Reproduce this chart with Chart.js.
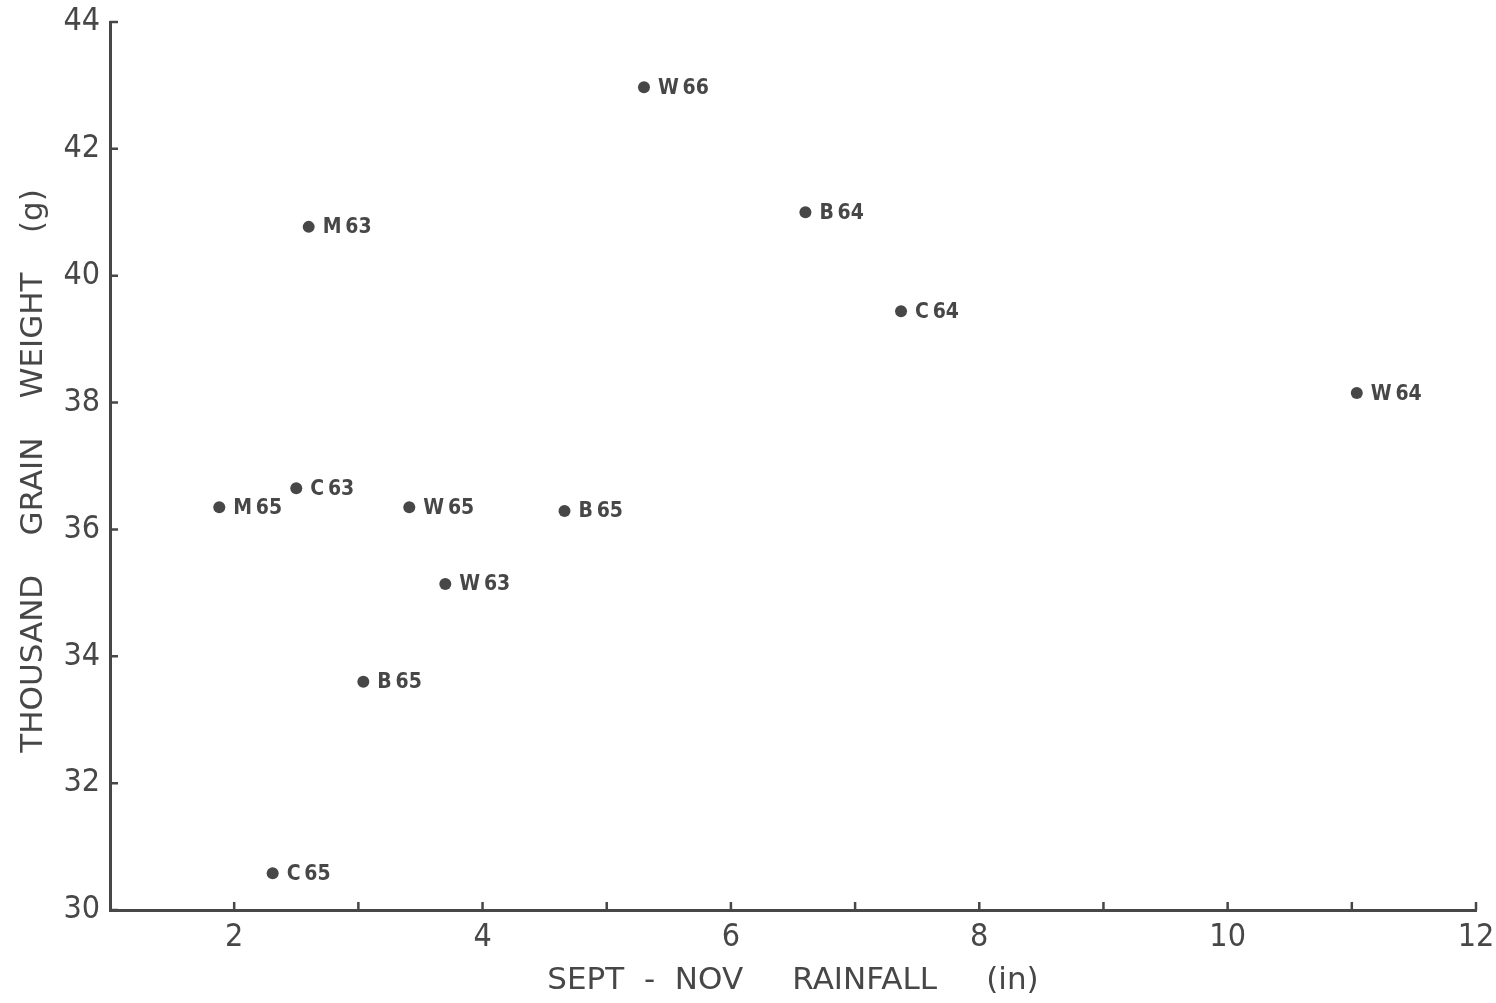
<!DOCTYPE html>
<html><head><meta charset="utf-8">
<script src="https://cdn.jsdelivr.net/npm/chart.js@4"></script>
<style>html,body{margin:0;padding:0;background:#fff}#wrap{width:1496px;height:1003px}</style>
</head><body><div id="wrap"><canvas id="c" width="1496" height="1003"></canvas></div>
<script>
// Data
const pointLabels = ['W\u200966','B\u200964','M\u200963','C\u200964','W\u200964','C\u200963','M\u200965','W\u200965','B\u200965','W\u200963','B\u200965','C\u200965'];
const rainfall    = [5.30, 6.60, 2.60, 7.37, 11.04, 2.50, 1.88, 3.41, 4.66, 3.70, 3.04, 2.31];
const grainWeight = [42.97, 41.00, 40.77, 39.44, 38.15, 36.65, 36.35, 36.35, 36.29, 35.14, 33.60, 30.58];
const xTickValues = [2, 4, 6, 8, 10, 12];
const xMarkValues = [2, 3, 4, 5, 6, 7, 8, 9, 10, 11, 12];
const yTickValues = [30, 32, 34, 36, 38, 40, 42, 44];
const xTitle = 'SEPT  -  NOV     RAINFALL     (in)';
const yTitle = 'THOUSAND    GRAIN    WEIGHT    (g) ';

const INK = '#474747';
const FONT = '"DejaVu Sans Condensed", "DejaVu Sans", sans-serif';
const TFONT = '"DejaVu Sans", sans-serif';

const inwardTicks = {
  id: 'inwardTicks',
  afterDraw(chart) {
    const {ctx, chartArea, scales} = chart;
    ctx.save();
    ctx.strokeStyle = INK;
    ctx.lineWidth = 2.5;
    ctx.beginPath();
    xMarkValues.forEach(v => {
      const px = scales.x.getPixelForValue(v);
      ctx.moveTo(px, chartArea.bottom);
      ctx.lineTo(px, chartArea.bottom - 8);
    });
    yTickValues.forEach(v => {
      const py = scales.y.getPixelForValue(v);
      ctx.moveTo(chartArea.left, py);
      ctx.lineTo(chartArea.left + 8, py);
    });
    ctx.stroke();
    ctx.restore();
  }
};

const labelPlugin = {
  id: 'pointLabels',
  afterDatasetsDraw(chart) {
    const {ctx} = chart;
    const meta = chart.getDatasetMeta(0);
    ctx.save();
    ctx.fillStyle = INK;
    ctx.font = 'bold 21px ' + FONT;
    ctx.textBaseline = 'middle';
    ctx.textAlign = 'left';
    meta.data.forEach((el, i) => {
      ctx.fillText(pointLabels[i], el.x + 14, el.y + 1);
    });
    ctx.restore();
  }
};

function noOverflow(s) {
  s.paddingTop = 0; s.paddingBottom = 0; s.paddingLeft = 0; s.paddingRight = 0;
}

new Chart(document.getElementById('c'), {
  type: 'scatter',
  data: {
    datasets: [{
      data: rainfall.map((x, i) => ({x, y: grainWeight[i]})),
      backgroundColor: INK,
      borderWidth: 0,
      pointRadius: 6,
      pointHoverRadius: 6
    }]
  },
  options: {
    responsive: false,
    devicePixelRatio: 1,
    animation: false,
    layout: {padding: {top: 22, right: 20, left: 0, bottom: 0}},
    plugins: {legend: {display: false}, tooltip: {enabled: false}},
    scales: {
      x: {
        type: 'linear', min: 1, max: 12,
        afterBuildTicks: s => { s.ticks = xTickValues.map(v => ({value: v})); },
        afterFit: s => { s.height = 93; noOverflow(s); },
        grid: {display: false, drawTicks: false},
        border: {display: true, color: INK, width: 3},
        ticks: {color: INK, font: {family: FONT, size: 32}, padding: 8, maxRotation: 0, autoSkip: false},
        title: {display: true, text: xTitle, color: INK, font: {family: TFONT, size: 31}, padding: {top: 0, bottom: 3}}
      },
      y: {
        type: 'linear', min: 30, max: 44,
        afterBuildTicks: s => { s.ticks = yTickValues.map(v => ({value: v})); },
        afterFit: s => { s.width = 110; noOverflow(s); },
        grid: {display: false, drawTicks: false},
        border: {display: true, color: INK, width: 3},
        ticks: {color: INK, font: {family: FONT, size: 32}, padding: 10, autoSkip: false},
        title: {display: true, text: yTitle, color: INK, font: {family: TFONT, size: 31}, padding: {top: 15, bottom: 0}}
      }
    }
  },
  plugins: [inwardTicks, labelPlugin]
});
</script>
</body></html>
